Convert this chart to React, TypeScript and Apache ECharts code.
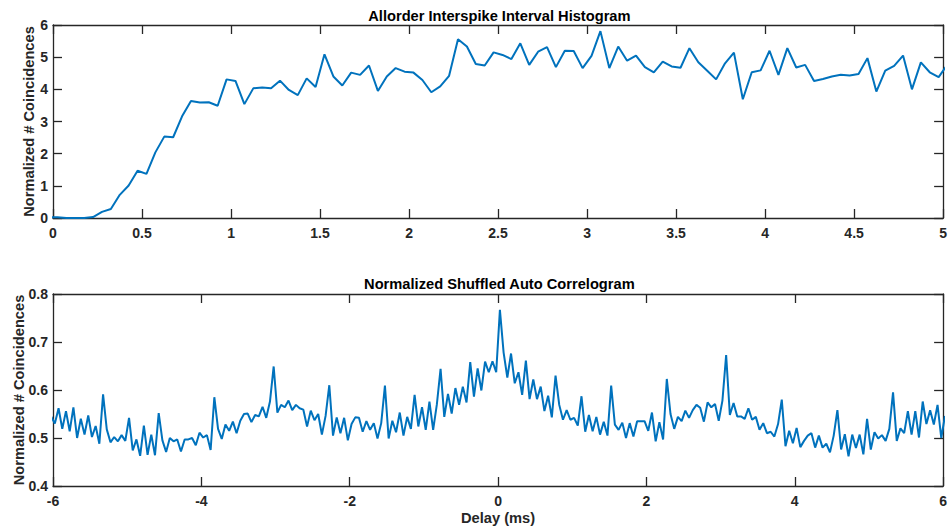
import { useEffect, useRef } from "react";
import * as echarts from "echarts";

// ---- Top panel: all-order interspike interval histogram ----
const ISI_FIRST_BIN = -0.025; // ms (bin centre, first one clipped by the axis)
const ISI_BIN_WIDTH = 0.05; // ms
const isiValues = [
  0.02,
  0.02, 0.0, 0.0, 0.0, 0.03, 0.19, 0.28, 0.72, 1.01, 1.47,
  1.37, 2.04, 2.53, 2.51, 3.16, 3.64, 3.59, 3.6, 3.49, 4.31,
  4.26, 3.54, 4.03, 4.06, 4.03, 4.27, 3.98, 3.82, 4.34, 4.07,
  5.09, 4.4, 4.12, 4.52, 4.45, 4.74, 3.95, 4.4, 4.66, 4.55,
  4.52, 4.29, 3.91, 4.09, 4.42, 5.56, 5.33, 4.79, 4.74, 5.15,
  5.07, 4.94, 5.43, 4.76, 5.17, 5.31, 4.69, 5.2, 5.19, 4.66,
  5.04, 5.81, 4.66, 5.33, 4.89, 5.05, 4.69, 4.53, 4.86, 4.71,
  4.67, 5.28, 4.84, 4.58, 4.31, 4.81, 5.14, 3.69, 4.53, 4.59,
  5.2, 4.45, 5.28, 4.68, 4.76, 4.26, 4.32, 4.4, 4.45, 4.43,
  4.48, 4.97, 3.93, 4.58, 4.73, 5.05, 4.0, 4.84, 4.53, 4.38,
  4.78,
];

// ---- Bottom panel: normalized shuffled auto-correlogram ----
const SAC_FIRST_BIN = -6.025; // ms
const SAC_BIN_WIDTH = 0.05; // ms
const sacValues = [
  0.545,
  0.53, 0.562, 0.519, 0.556, 0.514, 0.564, 0.5, 0.54, 0.507, 0.547,
  0.502, 0.525, 0.488, 0.591, 0.518, 0.491, 0.502, 0.493, 0.506, 0.494,
  0.542, 0.474, 0.497, 0.463, 0.526, 0.465, 0.507, 0.464, 0.552, 0.495,
  0.471, 0.5, 0.493, 0.497, 0.472, 0.497, 0.497, 0.5, 0.485, 0.511,
  0.501, 0.506, 0.475, 0.585, 0.519, 0.498, 0.528, 0.515, 0.534, 0.51,
  0.536, 0.55, 0.551, 0.533, 0.548, 0.545, 0.565, 0.542, 0.576, 0.649,
  0.553, 0.569, 0.564, 0.578, 0.558, 0.569, 0.562, 0.559, 0.524, 0.557,
  0.537, 0.55, 0.507, 0.546, 0.61, 0.505, 0.543, 0.51, 0.542, 0.495,
  0.529, 0.543, 0.542, 0.513, 0.535, 0.517, 0.531, 0.499, 0.531, 0.609,
  0.499, 0.536, 0.512, 0.553, 0.505, 0.544, 0.519, 0.59, 0.524, 0.564,
  0.517, 0.576, 0.517, 0.57, 0.644, 0.544, 0.592, 0.551, 0.604, 0.569,
  0.607, 0.574, 0.658, 0.586, 0.645, 0.599, 0.659, 0.637, 0.66, 0.637,
  0.767, 0.678, 0.626, 0.676, 0.614, 0.637, 0.59, 0.661, 0.581, 0.622,
  0.581, 0.607, 0.556, 0.588, 0.543, 0.63, 0.569, 0.538, 0.558, 0.538,
  0.542, 0.526, 0.587, 0.513, 0.548, 0.514, 0.544, 0.507, 0.534, 0.505,
  0.609, 0.528, 0.517, 0.532, 0.5, 0.531, 0.503, 0.535, 0.535, 0.535,
  0.515, 0.553, 0.493, 0.533, 0.497, 0.623, 0.55, 0.519, 0.544, 0.535,
  0.557, 0.542, 0.558, 0.569, 0.563, 0.534, 0.574, 0.564, 0.571, 0.536,
  0.578, 0.673, 0.548, 0.573, 0.545, 0.545, 0.54, 0.562, 0.538, 0.544,
  0.517, 0.531, 0.51, 0.513, 0.503, 0.529, 0.58, 0.483, 0.515, 0.489,
  0.521, 0.481, 0.494, 0.505, 0.51, 0.48, 0.505, 0.48, 0.488, 0.47,
  0.505, 0.558, 0.476, 0.508, 0.462, 0.507, 0.479, 0.507, 0.466, 0.54,
  0.476, 0.512, 0.499, 0.506, 0.494, 0.519, 0.595, 0.494, 0.52, 0.51,
  0.556, 0.507, 0.556, 0.501, 0.576, 0.529, 0.558, 0.528, 0.569, 0.5,
  0.546,
];

const TOP_TITLE = "Allorder Interspike Interval Histogram";
const BOTTOM_TITLE = "Normalized Shuffled Auto Correlogram";
const Y_NAME = "Normalized # Coincidences";
const X_NAME = "Delay (ms)";

const toPairs = (first: number, width: number, vals: number[]) =>
  vals.map((v, i) => [+(first + i * width).toFixed(4), v]);

const FONT = '"Liberation Sans", Arial, Helvetica, sans-serif';
const INK = "#262626";
const LINE = "#0072BD";

export default function App() {
  const ref = useRef<HTMLDivElement>(null);

  useEffect(() => {
    if (!ref.current) return;
    const chart = echarts.init(ref.current, undefined, { renderer: "svg" });

    const axisLine = { show: true, onZero: false, lineStyle: { color: INK, width: 1.3 } };
    const axisTick = { show: true, inside: true, length: 9, lineStyle: { color: INK, width: 1.3 } };
    const labelStyle = {
      color: INK,
      fontFamily: FONT,
      fontWeight: "bold" as const,
      fontSize: 14,
    };
    const nameStyle = {
      color: INK,
      fontFamily: FONT,
      fontWeight: "bold" as const,
      fontSize: 14.67,
    };

    const grids = [
      { left: 53, right: 4, top: 25, height: 193 },
      { left: 53, right: 4, top: 294, height: 192 },
    ];

    chart.setOption({
      animation: false,
      backgroundColor: "#ffffff",
      grid: grids,
      graphic: [
        {
          type: "text",
          x: 499.4,
          y: 16,
          style: {
            text: TOP_TITLE,
            align: "center",
            verticalAlign: "middle",
            fill: "#000000",
            fontFamily: FONT,
            fontWeight: "bold",
            fontSize: 14.67,
          },
        },
        {
          type: "text",
          x: 499.4,
          y: 284,
          style: {
            text: BOTTOM_TITLE,
            align: "center",
            verticalAlign: "middle",
            fill: "#000000",
            fontFamily: FONT,
            fontWeight: "bold",
            fontSize: 14.67,
          },
        },
      ],
      xAxis: [
        {
          gridIndex: 0,
          type: "value",
          min: 0,
          max: 5,
          interval: 0.5,
          position: "bottom",
          axisLine,
          axisTick,
          axisLabel: { ...labelStyle, margin: 8 },
          splitLine: { show: false },
        },
        {
          gridIndex: 0,
          type: "value",
          min: 0,
          max: 5,
          interval: 0.5,
          position: "top",
          axisLine,
          axisTick,
          axisLabel: { show: false },
          splitLine: { show: false },
        },
        {
          gridIndex: 1,
          type: "value",
          min: -6,
          max: 6,
          interval: 2,
          position: "bottom",
          axisLine,
          axisTick,
          axisLabel: { ...labelStyle, margin: 8 },
          splitLine: { show: false },
          name: X_NAME,
          nameLocation: "middle",
          nameGap: 24,
          nameMoveOverlap: false,
          nameTextStyle: nameStyle,
        },
        {
          gridIndex: 1,
          type: "value",
          min: -6,
          max: 6,
          interval: 2,
          position: "top",
          axisLine,
          axisTick,
          axisLabel: { show: false },
          splitLine: { show: false },
        },
      ],
      yAxis: [
        {
          gridIndex: 0,
          type: "value",
          min: 0,
          max: 6,
          interval: 1,
          position: "left",
          axisLine,
          axisTick,
          axisLabel: { ...labelStyle, margin: 5 },
          splitLine: { show: false },
          name: Y_NAME,
          nameLocation: "middle",
          nameGap: 17,
          nameMoveOverlap: false,
          nameTextStyle: nameStyle,
        },
        {
          gridIndex: 0,
          type: "value",
          min: 0,
          max: 6,
          interval: 1,
          position: "right",
          axisLine,
          axisTick,
          axisLabel: { show: false },
          splitLine: { show: false },
        },
        {
          gridIndex: 1,
          type: "value",
          min: 0.4,
          max: 0.8,
          interval: 0.1,
          position: "left",
          axisLine,
          axisTick,
          axisLabel: { ...labelStyle, margin: 5 },
          splitLine: { show: false },
          name: Y_NAME,
          nameLocation: "middle",
          nameGap: 27,
          nameMoveOverlap: false,
          nameTextStyle: nameStyle,
        },
        {
          gridIndex: 1,
          type: "value",
          min: 0.4,
          max: 0.8,
          interval: 0.1,
          position: "right",
          axisLine,
          axisTick,
          axisLabel: { show: false },
          splitLine: { show: false },
        },
      ],
      series: [
        {
          type: "line",
          xAxisIndex: 0,
          yAxisIndex: 0,
          data: toPairs(ISI_FIRST_BIN, ISI_BIN_WIDTH, isiValues),
          showSymbol: false,
          clip: true,
          lineStyle: { color: LINE, width: 2 },
          itemStyle: { color: LINE },
        },
        {
          type: "line",
          xAxisIndex: 2,
          yAxisIndex: 2,
          data: toPairs(SAC_FIRST_BIN, SAC_BIN_WIDTH, sacValues),
          showSymbol: false,
          clip: true,
          lineStyle: { color: LINE, width: 2 },
          itemStyle: { color: LINE },
        },
      ],
    });

    return () => chart.dispose();
  }, []);

  return (
    <div
      ref={ref}
      style={{ position: "fixed", left: 0, top: 0, width: 950, height: 527, background: "#fff" }}
    />
  );
}
